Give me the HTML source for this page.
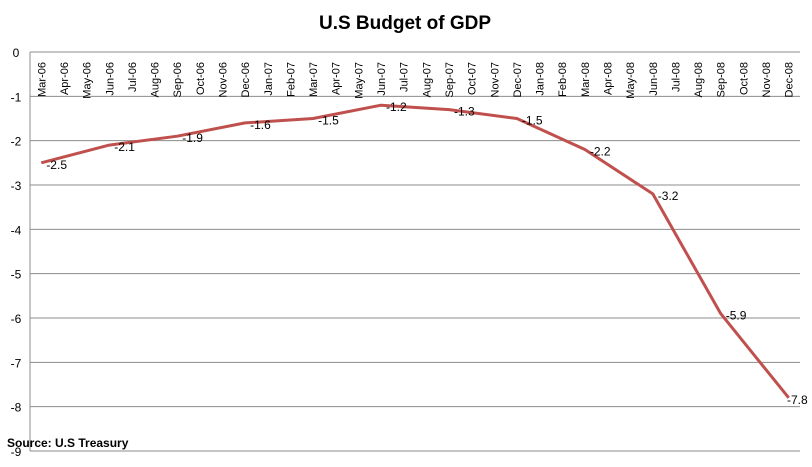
<!DOCTYPE html>
<html><head><meta charset="utf-8"><style>
body{margin:0;background:#fff;}
svg text{font-family:"Liberation Sans",Arial,sans-serif;}
</style></head><body>
<svg id="chart" width="812" height="462" xmlns="http://www.w3.org/2000/svg">
<text x="405" y="29" text-anchor="middle" font-size="19" font-weight="bold">U.S Budget of GDP</text>
<g id="grid"></g><g id="yticks"></g><g id="xticks"></g><g id="series"></g><g id="labels"></g>
<text x="7" y="447" font-size="12" font-weight="bold">Source: U.S Treasury</text>
</svg>
<script>
const months=["Mar-06","Apr-06","May-06","Jun-06","Jul-06","Aug-06","Sep-06","Oct-06","Nov-06","Dec-06","Jan-07","Feb-07","Mar-07","Apr-07","May-07","Jun-07","Jul-07","Aug-07","Sep-07","Oct-07","Nov-07","Dec-07","Jan-08","Feb-08","Mar-08","Apr-08","May-08","Jun-08","Jul-08","Aug-08","Sep-08","Oct-08","Nov-08","Dec-08"];
const pointMonths=["Mar-06","Jun-06","Sep-06","Dec-06","Mar-07","Jun-07","Sep-07","Dec-07","Mar-08","Jun-08","Sep-08","Dec-08"];
const values=[-2.5,-2.1,-1.9,-1.6,-1.5,-1.2,-1.3,-1.5,-2.2,-3.2,-5.9,-7.8];
const yTicks=[0,-1,-2,-3,-4,-5,-6,-7,-8,-9];
const NS="http://www.w3.org/2000/svg";
const L=30,R=800,T=52,B=451;
const step=(R-L)/months.length;
const x=m=>L+step*(months.indexOf(m)+0.5);
const y=v=>T+(0-v)/9*(B-T);
function mk(tag,attrs,parent,txt){const e=document.createElementNS(NS,tag);for(const k in attrs)e.setAttribute(k,attrs[k]);if(txt!==undefined)e.textContent=txt;document.getElementById(parent).appendChild(e);return e;}
yTicks.forEach(t=>{
  const g=mk('line',{x1:L,x2:R,y1:y(t),y2:y(t),stroke:'#8c8c8c','stroke-width':1},'grid');
  
  
  const tx=mk('text',{x:16,y:y(t)+5,'text-anchor':'middle','font-size':12},'yticks',String(t));
  
  
});
const ax=mk('line',{x1:L,x2:L,y1:T,y2:B,stroke:'#8c8c8c','stroke-width':1},'grid');


months.forEach(m=>{
  const cx=x(m)+4;
  const t=mk('text',{x:cx,y:62,'text-anchor':'end','font-size':11,transform:`rotate(-90 ${cx} 62)`},'xticks',m);
  
  
});
const pts=values.map((v,i)=>x(pointMonths[i]).toFixed(1)+','+y(v).toFixed(1)).join(' ');
const line=mk('polyline',{points:pts,fill:'none',stroke:'#C0504D','stroke-width':3,'stroke-linejoin':'round'},'series');


values.forEach((v,i)=>{
  const t=mk('text',{x:Math.min(x(pointMonths[i])+5,787),y:y(v)+6,'font-size':12},'labels',String(v));
  
  
});
</script>
</body></html>
